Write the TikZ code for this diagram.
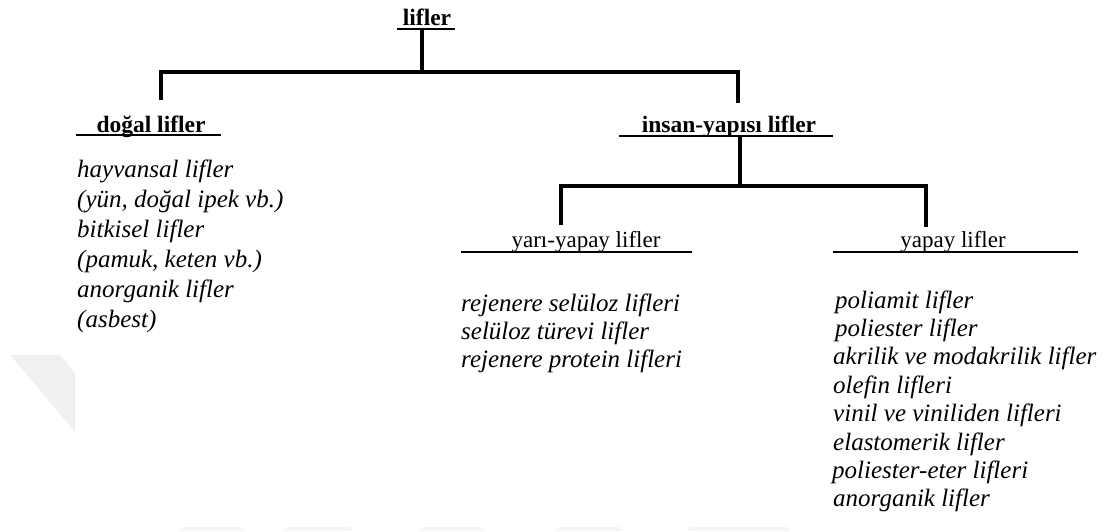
\documentclass[tikz,border=0pt]{standalone}
\usepackage{fontspec}
\setmainfont{Liberation Serif}
\begin{document}
\begin{tikzpicture}[x=1pt,y=-1pt,
  tree/.style={line width=3.5pt, line join=miter},
  uline/.style={line width=2.8pt},
  thinuline/.style={line width=1.6pt},
  head/.style={font=\fontsize{23.5}{28}\selectfont\bfseries, inner sep=0pt, anchor=base},
  sub/.style={font=\fontsize{23}{28}\selectfont, inner sep=0pt, anchor=base},
  item/.style={font=\fontsize{25}{28}\selectfont\itshape, inner sep=0pt, anchor=base west},
  wm/.style={fill=black!6, draw=none},
  wmlight/.style={fill=black!4, draw=none}]
\useasboundingbox (0,0) rectangle (1111,531);
% faint watermark
\fill[wm] (10,355) -- (60,355) -- (75,373) -- (75,432) -- cycle;
\fill[wmlight] (182,527) -- (240,527) -- (244,531) -- (178,531) -- cycle;
\fill[wmlight] (288,527) -- (350,527) -- (354,531) -- (284,531) -- cycle;
\fill[wmlight] (423,527) -- (480,527) -- (484,531) -- (419,531) -- cycle;
\fill[wmlight] (560,527) -- (620,527) -- (624,531) -- (556,531) -- cycle;
\fill[wmlight] (690,527) -- (787,527) -- (791,531) -- (686,531) -- cycle;

% headings
\node[head] (root) at (427,25) {lifler};
\node[head] (dogal) at (151,132) {doğal lifler};
\node[head] (insan) at (729,132) {insan-yapısı lifler};
\node[sub] (yari) at (586,247) {yarı-yapay lifler};
\node[sub] (yapay) at (953,247) {yapay lifler};

% underlines
\coordinate (rootUL) at (397,29); \coordinate (rootUR) at (455,29);
\coordinate (dogUL) at (76,135);  \coordinate (dogUR) at (221,135);
\coordinate (insUL) at (619,136); \coordinate (insUR) at (833,136);
\coordinate (yarUL) at (461,252); \coordinate (yarUR) at (692,252);
\coordinate (yapUL) at (833,252); \coordinate (yapUR) at (1078,252);
\draw[uline] (rootUL) -- (rootUR);
\draw[uline] (dogUL) -- (dogUR);
\draw[uline] (insUL) -- (insUR);
\draw[thinuline] (yarUL) -- (yarUR);
\draw[thinuline] (yapUL) -- (yapUR);

% tree connectors
\coordinate (rootS) at (422,29);
\coordinate (j1) at (422,72);
\coordinate (dogT) at (161,100);
\coordinate (insT) at (738,103);
\draw[tree] (rootS) -- (j1);
\draw[tree] (dogT) |- (j1) -| (insT);

\coordinate (insS) at (740,136);
\coordinate (j2) at (740,186);
\coordinate (yarT) at (561,225);
\coordinate (yapT) at (926,227);
\draw[tree] (insS) -- (j2);
\draw[tree] (yarT) |- (j2) -| (yapT);

% natural fibres
\node[item] (n1) at (77,177) {hayvansal lifler};
\node[item] (n2) at (77,207) {(yün, doğal ipek vb.)};
\node[item] (n3) at (77,237) {bitkisel lifler};
\node[item] (n4) at (77,267) {(pamuk, keten vb.)};
\node[item] (n5) at (77,297) {anorganik lifler};
\node[item] (n6) at (77,327) {(asbest)};

% semi-synthetic
\node[item] (m1) at (461,311) {rejenere selüloz lifleri};
\node[item] (m2) at (461,339.4) {selüloz türevi lifler};
\node[item] (m3) at (461,367.8) {rejenere protein lifleri};

% synthetic
\node[item] (r1) at (835,308) {poliamit lifler};
\node[item] (r2) at (835,336.4) {poliester lifler};
\node[item] (r3) at (833,364.8) {akrilik ve modakrilik lifler};
\node[item] (r4) at (833,393.2) {olefin lifleri};
\node[item] (r5) at (833,421.6) {vinil ve viniliden lifleri};
\node[item] (r6) at (833,450) {elastomerik lifler};
\node[item] (r7) at (832,478.4) {poliester-eter lifleri};
\node[item] (r8) at (833,506.8) {anorganik lifler};
\end{tikzpicture}
\end{document}
